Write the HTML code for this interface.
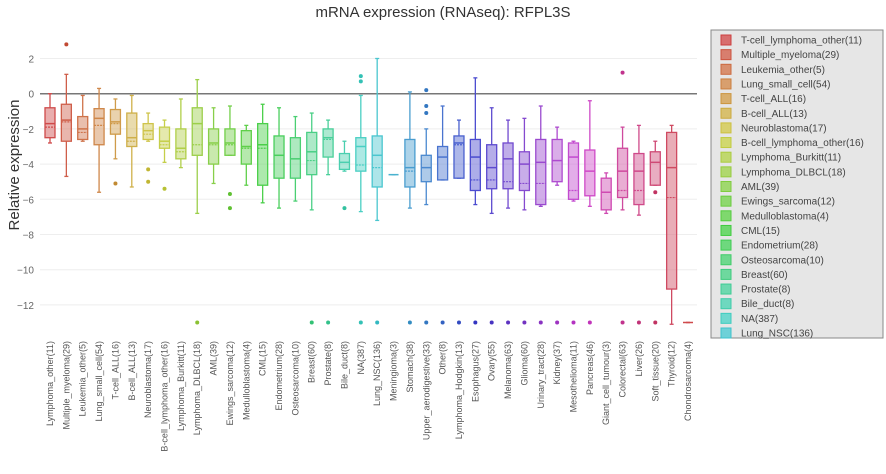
<!DOCTYPE html>
<html><head><meta charset="utf-8"><style>
html,body{margin:0;padding:0;background:#fff;}
svg{display:block;font-family:"Liberation Sans",sans-serif;}
</style></head><body>
<svg id="c" width="886" height="474" xmlns="http://www.w3.org/2000/svg">
<text x="443" y="17" text-anchor="middle" font-size="15" fill="#333">mRNA expression (RNAseq): RFPL3S</text>
<text transform="translate(19,165) rotate(-90)" text-anchor="middle" font-size="15" fill="#333">Relative expression</text>
<g id="grid"></g><g id="marks"></g><g id="xl"></g>
<rect x="711" y="30" width="172" height="308" fill="#e6e6e6" stroke="#888" stroke-width="1"/>
<g id="leg"></g>
</svg>
<script>
const categories=["Lymphoma_other(11)","Multiple_myeloma(29)","Leukemia_other(5)","Lung_small_cell(54)","T-cell_ALL(16)","B-cell_ALL(13)","Neuroblastoma(17)","B-cell_lymphoma_other(16)","Lymphoma_Burkitt(11)","Lymphoma_DLBCL(18)","AML(39)","Ewings_sarcoma(12)","Medulloblastoma(4)","CML(15)","Endometrium(28)","Osteosarcoma(10)","Breast(60)","Prostate(8)","Bile_duct(8)","NA(387)","Lung_NSC(136)","Meningioma(3)","Stomach(38)","Upper_aerodigestive(33)","Other(8)","Lymphoma_Hodgkin(13)","Esophagus(27)","Ovary(55)","Melanoma(63)","Glioma(60)","Urinary_tract(28)","Kidney(37)","Mesothelioma(11)","Pancreas(46)","Giant_cell_tumour(3)","Colorectal(63)","Liver(26)","Soft_tissue(20)","Thyroid(12)","Chondrosarcoma(4)"];
const q1=[-2.5,-2.7,-2.6,-2.9,-2.3,-3.0,-2.6,-3.1,-3.7,-3.5,-4.0,-3.5,-4.0,-5.2,-4.8,-4.8,-4.6,-3.6,-4.3,-4.4,-5.3,-4.6,-5.3,-5.0,-4.9,-4.8,-5.5,-5.4,-5.4,-5.5,-6.3,-5.0,-6.0,-5.8,-6.6,-5.9,-6.3,-5.2,-11.1,-13];
const median=[-1.7,-1.5,-2.0,-1.4,-1.6,-2.5,-2.1,-2.7,-3.1,-1.7,-2.8,-2.8,-3.0,-2.9,-3.5,-3.7,-3.3,-2.5,-3.9,-3.0,-3.5,-4.6,-4.2,-4.2,-3.6,-2.8,-3.6,-4.2,-3.7,-4.0,-3.9,-3.8,-3.6,-4.4,-5.6,-4.4,-4.4,-3.9,-4.2,-13];
const mean=[-1.9,-1.6,-2.2,-1.8,-1.7,-2.7,-2.3,-2.9,-3.3,-2.9,-2.9,-2.9,-3.1,-3.1,-3.5,-3.7,-3.8,-2.6,-3.9,-4.05,-4.2,-4.6,-4.4,-4.2,-3.6,-2.9,-4.9,-4.9,-5.0,-5.1,-5.1,-3.8,-5.5,-4.4,-5.6,-5.5,-5.5,-3.9,-5.9,-13];
const q3=[-0.8,-0.6,-1.3,-0.85,-0.9,-1.1,-1.7,-1.9,-2.0,-0.8,-2.0,-2.0,-2.1,-1.7,-2.4,-2.5,-2.2,-2.0,-3.4,-2.5,-2.4,-4.6,-2.6,-3.5,-3.0,-2.4,-2.6,-2.9,-2.8,-3.3,-2.6,-2.6,-2.8,-3.2,-4.8,-3.1,-3.4,-3.3,-2.2,-13];
const whiskLow=[-2.8,-4.7,-2.7,-5.6,-3.7,-5.3,-2.7,-3.9,-4.2,-6.8,-5.1,-3.5,-5.2,-6.2,-6.5,-6.1,-6.6,-4.6,-4.4,-6.7,-7.2,-4.6,-6.5,-6.3,-4.9,-4.8,-6.3,-6.8,-6.5,-6.6,-6.4,-5.2,-6.1,-6.4,-6.8,-6.6,-6.9,-5.2,-13.1,-13];
const whiskHigh=[0,1.1,-0.1,0.3,-0.3,-0.1,-1.1,-1.5,-0.3,0.8,-0.8,-0.7,-1.8,-0.6,-0.8,-1.3,-1.1,-1.5,-2.7,-0.1,2.0,-4.6,0.1,-2.0,-0.7,-1.5,0.9,-0.8,-1.5,-1.4,-0.7,-1.9,-2.7,-0.4,-4.5,-1.9,-1.8,-2.7,-1.8,-13];
const outliers=[[],[2.8],[],[],[-5.1],[],[-4.3,-5.0],[-5.4],[],[-13],[],[-5.7,-6.5],[],[],[],[],[-13],[-13],[-6.5],[1.0,0.7,-13],[-13],[],[-13],[0.2,-0.7,-1.1,-13],[-13],[-13],[-13],[-13],[-13],[-13],[-13],[-13],[-13],[-13],[],[1.2,-13],[-13],[-5.6,-13],[],[]];
const yTicks=[2,0,-2,-4,-6,-8,-10,-12];
const legendLabels=["T-cell_lymphoma_other(11)","Multiple_myeloma(29)","Leukemia_other(5)","Lung_small_cell(54)","T-cell_ALL(16)","B-cell_ALL(13)","Neuroblastoma(17)","B-cell_lymphoma_other(16)","Lymphoma_Burkitt(11)","Lymphoma_DLBCL(18)","AML(39)","Ewings_sarcoma(12)","Medulloblastoma(4)","CML(15)","Endometrium(28)","Osteosarcoma(10)","Breast(60)","Prostate(8)","Bile_duct(8)","NA(387)","Lung_NSC(136)"];

const NS="http://www.w3.org/2000/svg";
function y(v){return 93.7-17.6*v;}
function x(i){return 50+i*(638/39);}
function col(i,l){return "hsl("+(i*9.2)+",58%,"+l+"%)";}
function mk(tag,attrs,parent){const e=document.createElementNS(NS,tag);for(const k in attrs)e.setAttribute(k,attrs[k]);parent.appendChild(e);return e;}
const grid=document.getElementById('grid'),marks=document.getElementById('marks'),xl=document.getElementById('xl'),leg=document.getElementById('leg');
yTicks.forEach(t=>{
  const l=mk('line',{x1:40,x2:697,y1:y(t),y2:y(t),stroke:t===0?'#777':'#eee','stroke-width':t===0?1.5:1},grid);
  
  
  const tx=mk('text',{x:34,y:y(t)+4,'text-anchor':'end','font-size':10,fill:'#666'},grid);
  tx.textContent=t===0?'0':(t<0?'\u2212'+(-t):String(t));
  
  
});
categories.forEach((c,i)=>{
  const cx=x(i),s=col(i,55),f=col(i,66),w=5;
  const g=mk('g',{},marks);
  
  
  mk('line',{x1:cx,x2:cx,y1:y(whiskHigh[i]),y2:y(q3[i]),stroke:s,'stroke-width':1.3},g);
  mk('line',{x1:cx,x2:cx,y1:y(q1[i]),y2:y(whiskLow[i]),stroke:s,'stroke-width':1.3},g);
  mk('line',{x1:cx-2,x2:cx+2,y1:y(whiskHigh[i]),y2:y(whiskHigh[i]),stroke:s,'stroke-width':1.3},g);
  mk('line',{x1:cx-2,x2:cx+2,y1:y(whiskLow[i]),y2:y(whiskLow[i]),stroke:s,'stroke-width':1.3},g);
  const h=Math.max(y(q1[i])-y(q3[i]),0);
  if(h>0.5) mk('rect',{x:cx-w,y:y(q3[i]),width:2*w,height:h,fill:f,'fill-opacity':0.6,stroke:s,'stroke-width':1.3},g);
  mk('line',{x1:cx-w,x2:cx+w,y1:y(median[i]),y2:y(median[i]),stroke:s,'stroke-width':1.5},g);
  if(mean[i]!==median[i]) mk('line',{x1:cx-w,x2:cx+w,y1:y(mean[i]),y2:y(mean[i]),stroke:s,'stroke-width':1.2,'stroke-dasharray':'2,1'},g);
  outliers[i].forEach(o=>{
    const d=mk('circle',{cx:cx,cy:y(o),r:2,fill:col(i,48)},g);
    
    
  });
  const t=mk('text',{transform:'translate('+(cx+3)+',341) rotate(-90)','text-anchor':'end','font-size':9,fill:'#555'},xl);
  t.textContent=c;
  
  
});
legendLabels.forEach((L,i)=>{
  const yy=40+i*14.65;
  const g=mk('g',{},leg);
  
  
  mk('rect',{x:721,y:yy-5,width:10,height:10,fill:col(i,64),stroke:col(i,52),'stroke-width':1},g);
  const t=mk('text',{x:741,y:yy+3.5,'font-size':10,fill:'#444'},g);
  t.textContent=L;
});
</script>
</body></html>
